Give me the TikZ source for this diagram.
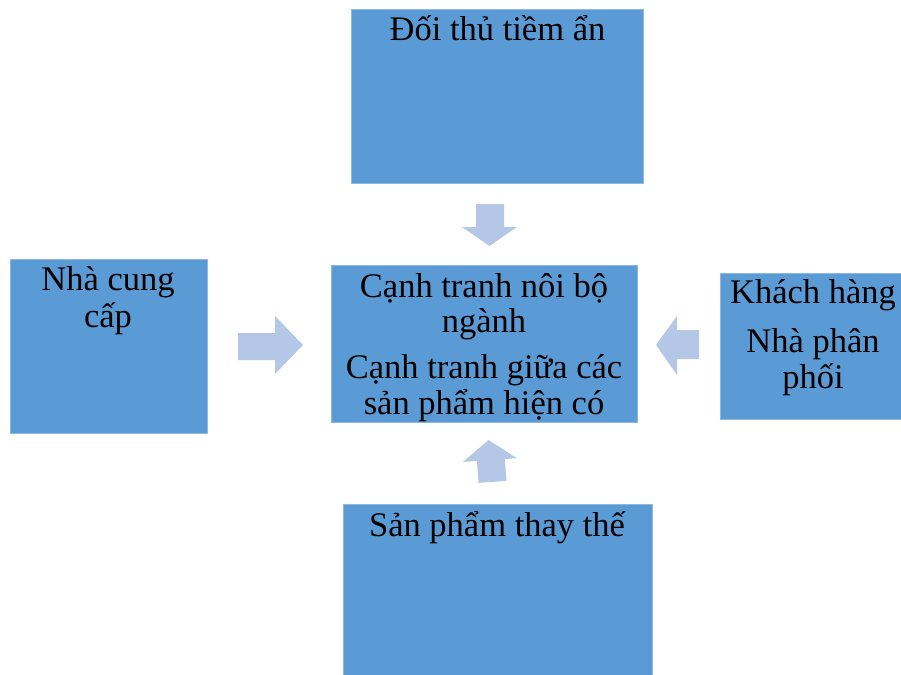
\documentclass[tikz,border=0pt]{standalone}
\usepackage{fontspec}
\setmainfont{Liberation Serif}
\definecolor{boxblue}{HTML}{5B9BD5}
\definecolor{arrowblue}{HTML}{B4C7E7}
\begin{document}
\begin{tikzpicture}[x=1pt,y=-1pt,
  box/.style={fill=boxblue,draw=boxblue!70!white,line width=0.8pt,inner sep=0pt,rectangle},
  txt/.style={anchor=base,inner sep=0pt,font=\fontsize{34.5}{36}\selectfont},
  blockarrow/.style={fill=arrowblue,draw=none}]
\useasboundingbox (0,0) rectangle (901,674);
% boxes
\node[box,minimum width=292pt,minimum height=174pt] (top) at (497,96) {};
\node[box,minimum width=197pt,minimum height=174pt] (left) at (108.5,346) {};
\node[box,minimum width=306pt,minimum height=157pt] (center) at (484,343.5) {};
\node[box,minimum width=183pt,minimum height=146pt] (right) at (811.5,346) {};
\node[box,minimum width=309pt,minimum height=172pt] (bottom) at (497.5,590) {};
% texts
\node[txt] (ttop) at (497.5,41) {Đối thủ tiềm ẩn};
\node[txt] (tleft1) at (108,290) {Nhà cung};
\node[txt] (tleft2) at (108,327) {cấp};
\node[txt] (tright1) at (813,303) {Khách hàng};
\node[txt] (tright2) at (813,352) {Nhà phân};
\node[txt] (tright3) at (813,388) {phối};
\node[txt] (tbottom) at (497,536) {Sản phẩm thay thế};
\begin{scope}
\clip (331,265) rectangle (637,422);
\node[txt] (tc1) at (484,297) {Cạnh tranh nôi bộ};
\node[txt] (tc2) at (484,332) {ngành};
\node[txt] (tc3) at (484,378) {Cạnh tranh giữa các};
\node[txt] (tc4) at (484,414) {sản phẩm hiện có};
\end{scope}
% block arrows
\path[blockarrow] (476,204) -- (504,204) -- (504,227) -- (517,227) -- (489.5,246) -- (462,227) -- (476,227) -- cycle;
\path[blockarrow] (238,333) -- (275,333) -- (275,316) -- (303,345) -- (275,374) -- (275,360) -- (238,360) -- cycle;
\path[blockarrow] (699,330) -- (677,330) -- (677,316) -- (656,345) -- (677,375) -- (677,359) -- (699,359) -- cycle;
\path[blockarrow,rotate around={4:(490,461)}] (477,482) -- (505,482) -- (505,460) -- (517,460) -- (490,440) -- (463,460) -- (477,460) -- cycle;
\end{tikzpicture}
\end{document}
